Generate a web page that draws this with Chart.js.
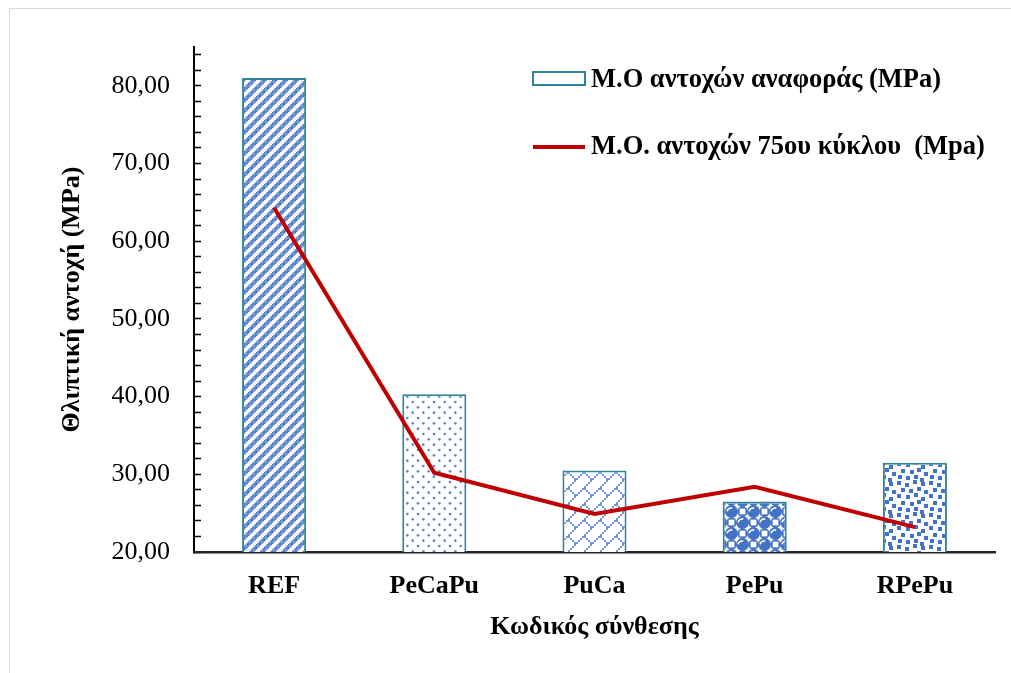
<!DOCTYPE html>
<html>
<head>
<meta charset="utf-8">
<script src="https://cdn.jsdelivr.net/npm/chart.js@4.4.1/dist/chart.umd.min.js"></script>
<style>
  html, body { margin: 0; padding: 0; background: #fff; }
  canvas { display: block; }
</style>
</head>
<body>
<canvas id="chart" width="1011" height="673"></canvas>
<script>
// Compressive strength per mix code
const categories = ['REF', 'PeCaPu', 'PuCa', 'PePu', 'RPePu'];
const referenceStrength = [81.0, 40.3, 30.5, 26.5, 31.5];   // bars (MPa)
const cycle75Strength = [64.3, 30.2, 24.9, 28.4, 23.2];     // line (MPa)
const seriesLabels = ['Μ.Ο αντοχών αναφοράς (MPa)', 'Μ.Ο. αντοχών 75ου κύκλου  (Mpa)'];
const yMin = 20, yMax = 85, yMinorStep = 2, yMajorStep = 10;
const xTitle = 'Κωδικός σύνθεσης';
const yTitle = 'Θλιπτική αντοχή (MPa)';

const SERIF = "'Liberation Serif', 'Times New Roman', serif";
const PATTERN_BLUE = '#4472C4';
const BAR_EDGE = '#31849B';
const LINE_RED = '#C00000';

// ---- bar fill patterns ----
function tileCanvas(size) {
  const c = document.createElement('canvas');
  c.width = size; c.height = size;
  const g = c.getContext('2d');
  g.fillStyle = '#ffffff';
  g.fillRect(0, 0, size, size);
  return { c, g };
}

// 8x8 bitmap hatches; `unit` is the pixel size of one bitmap cell
function makeBitmapPattern(bits, color, unit, reps) {
  const { c, g } = tileCanvas(Math.round(8 * reps * unit));
  g.fillStyle = color;
  for (let ty = 0; ty < reps; ty++)
    for (let tx = 0; tx < reps; tx++)
      for (let y = 0; y < 8; y++)
        for (let x = 0; x < 8; x++)
          if (bits[y][x] === 'X') g.fillRect((tx * 8 + x) * unit, (ty * 8 + y) * unit, unit, unit);
  return g.createPattern(c, 'repeat');
}

const upDiagonalBits = [];
for (let y = 0; y < 8; y++) {
  let r = '';
  for (let x = 0; x < 8; x++) r += ((x + y) % 8 < 4) ? 'X' : '.';
  upDiagonalBits.push(r);
}
const diagonalBrickBits = [
  '.......X',
  '......X.',
  '.....X..',
  '....X...',
  '...XX...',
  '..X..X..',
  '.X....X.',
  'X......X'
];

// Staggered small dots
function makeDotPattern(color, spacing, reps, radius) {
  const { c, g } = tileCanvas(Math.round(spacing * reps));
  g.fillStyle = color;
  for (let j = 0; j < reps; j++)
    for (let i = 0; i < reps; i++)
      [[0, 0], [spacing / 2, spacing / 2]].forEach(([ox, oy]) => {
        g.beginPath();
        g.arc(i * spacing + 2 + ox, j * spacing + 2 + oy, radius, 0, Math.PI * 2);
        g.fill();
      });
  return g.createPattern(c, 'repeat');
}

// Shaded spheres in a checkerboard, with hollow squares between them
function makeSpherePattern(color, size) {
  const { c, g } = tileCanvas(size);
  const h = size / 2, r = size * 0.29;
  const wrap = [-size, 0, size];
  [[h / 2, h / 2], [h * 1.5, h * 1.5]].forEach(([cx, cy]) => {
    for (const dx of wrap) for (const dy of wrap) {
      const x = cx + dx, y = cy + dy;
      g.fillStyle = color;
      g.beginPath(); g.arc(x, y, r, 0, Math.PI * 2); g.fill();
      g.strokeStyle = '#ffffff';
      g.lineWidth = 1.6;
      g.beginPath(); g.arc(x - 0.5, y + 0.5, r * 0.62, Math.PI * 1.05, Math.PI * 1.6); g.stroke();
    }
  });
  [[h * 1.5, h / 2], [h / 2, h * 1.5]].forEach(([cx, cy]) => {
    for (const dx of wrap) for (const dy of wrap) {
      const x = cx + dx, y = cy + dy;
      g.fillStyle = color;
      g.beginPath(); g.arc(x, y, r * 0.82, 0, Math.PI * 2); g.fill();
      g.fillStyle = '#ffffff';
      g.fillRect(x - r * 0.45, y - r * 0.45, r * 0.9, r * 0.9);
    }
  });
  return g.createPattern(c, 'repeat');
}

// Scattered squares (top-left corners inside one tile)
const confettiSquares = [
  [1, 1], [9, 3], [17, 0], [25, 2], [5, 8], [13, 9], [21, 7], [28, 10],
  [1, 14], [10, 15], [18, 13], [25, 17], [5, 21], [14, 22], [21, 20], [28, 24],
  [2, 27], [10, 28], [18, 27], [24, 30]
];
function makeConfettiPattern(color, size, sq) {
  const { c, g } = tileCanvas(size);
  g.fillStyle = color;
  confettiSquares.forEach(([x, y]) => {
    g.fillRect(x, y, sq, sq);
    g.fillRect(x - size, y, sq, sq);
    g.fillRect(x, y - size, sq, sq);
    g.fillRect(x - size, y - size, sq, sq);
  });
  return g.createPattern(c, 'repeat');
}

const barFills = [
  makeBitmapPattern(upDiagonalBits, PATTERN_BLUE, 4 / 3, 3),
  makeDotPattern('#5b86cf', 32 / 3, 3, 1.3),
  makeBitmapPattern(diagonalBrickBits, '#7096d6', 2, 1),
  makeSpherePattern(PATTERN_BLUE, 22),
  makeConfettiPattern(PATTERN_BLUE, 32, 4)
];

const formatTick = v => (v % yMajorStep === 0) ? v.toFixed(2).replace('.', ',') : '';

// Light frame around the chart
const framePlugin = {
  id: 'frame',
  beforeDraw(chart) {
    const ctx = chart.ctx;
    ctx.save();
    ctx.fillStyle = '#ffffff';
    ctx.fillRect(0, 0, chart.width, chart.height);
    ctx.strokeStyle = '#d9d9d9';
    ctx.lineWidth = 1;
    ctx.strokeRect(9.5, 8.5, chart.width + 20, chart.height + 20);
    ctx.restore();
  }
};

// Legend inside the plot area, top right
const insideLegend = {
  id: 'insideLegend',
  afterDraw(chart) {
    const ctx = chart.ctx;
    const line = chart.data.datasets[0];
    const bar = chart.data.datasets[1];
    const sx = 533, sw = 52, tx = 591;
    ctx.save();
    ctx.font = 'bold 26.5px ' + SERIF;
    ctx.textBaseline = 'middle';
    ctx.textAlign = 'left';

    ctx.fillStyle = '#ffffff';
    ctx.fillRect(sx, 72, sw, 13);
    ctx.strokeStyle = bar.borderColor;
    ctx.lineWidth = 2;
    ctx.strokeRect(sx, 72, sw, 13);
    ctx.fillStyle = '#000000';
    ctx.fillText(bar.label, tx, 80);

    ctx.strokeStyle = line.borderColor;
    ctx.lineWidth = line.borderWidth;
    ctx.beginPath();
    ctx.moveTo(sx, 147);
    ctx.lineTo(sx + sw, 147);
    ctx.stroke();
    ctx.fillText(line.label, tx, 147);
    ctx.restore();
  }
};

new Chart(document.getElementById('chart'), {
  data: {
    labels: categories,
    datasets: [
      {
        type: 'line',
        label: seriesLabels[1],
        data: cycle75Strength,
        borderColor: LINE_RED,
        borderWidth: 4,
        pointRadius: 0,
        tension: 0,
        fill: false,
        order: 0
      },
      {
        type: 'bar',
        label: seriesLabels[0],
        data: referenceStrength,
        backgroundColor: barFills,
        borderColor: BAR_EDGE,
        borderWidth: 2,
        borderSkipped: false,
        categoryPercentage: 0.8,
        barPercentage: 0.5,
        order: 1
      }
    ]
  },
  options: {
    responsive: false,
    animation: false,
    events: [],
    layout: { padding: { top: 47, right: 16, left: 0, bottom: 0 } },
    plugins: {
      legend: { display: false },
      tooltip: { enabled: false },
      title: { display: false }
    },
    scales: {
      x: {
        type: 'category',
        offset: true,
        grid: { display: false, drawTicks: false },
        border: { display: true, color: '#262626', width: 2.5 },
        ticks: {
          color: '#000',
          padding: 19,
          font: { family: SERIF, size: 26, weight: 'bold' },
          maxRotation: 0
        },
        title: {
          display: true,
          text: xTitle,
          color: '#000',
          font: { family: SERIF, size: 26, weight: 'bold', lineHeight: 1.2 },
          padding: { top: 0, bottom: 30 }
        },
        afterFit(scale) { scale.height = 121; }
      },
      y: {
        type: 'linear',
        min: yMin,
        max: yMax,
        grid: {
          display: true,
          drawOnChartArea: false,
          drawTicks: true,
          tickLength: -7,
          tickWidth: 1.5,
          tickColor: '#000'
        },
        border: { display: true, color: '#000', width: 2 },
        ticks: {
          stepSize: yMinorStep,
          includeBounds: false,
          autoSkip: false,
          color: '#000',
          padding: 31,
          font: { family: SERIF, size: 26 },
          callback: formatTick
        },
        title: {
          display: true,
          text: yTitle,
          color: '#000',
          font: { family: SERIF, size: 26, weight: 'bold', lineHeight: 1.2 },
          padding: { top: 57, bottom: 0 }
        },
        afterFit(scale) { scale.width = 194; }
      }
    }
  },
  plugins: [framePlugin, insideLegend]
});
</script>
</body>
</html>
